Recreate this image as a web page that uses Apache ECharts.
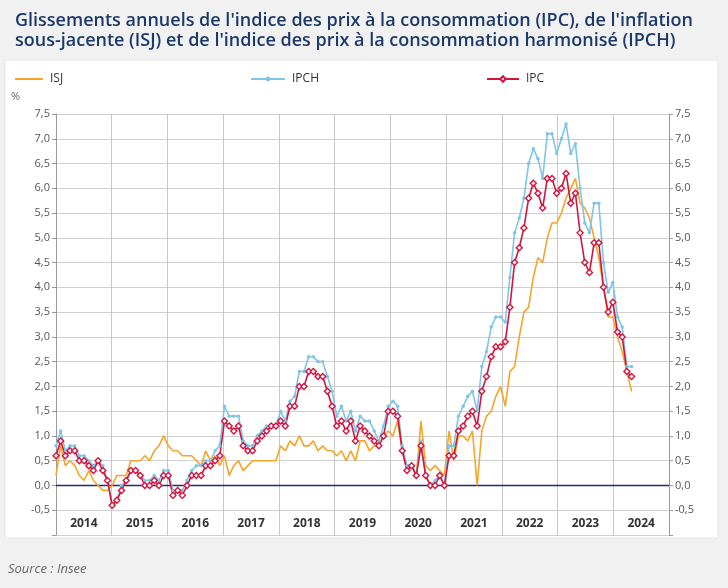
<!DOCTYPE html>
<html>
<head>
<meta charset="utf-8">
<script src="https://cdn.jsdelivr.net/npm/echarts@6/dist/echarts.min.js"></script>
<style>
  html, body { margin: 0; padding: 0; background: #f1f1f1; }
  #chart { width: 728px; height: 588px; }
</style>
</head>
<body>
<div id="chart"></div>
<script>
// ---- Data (annual change, %) Jan 2014 .. Apr 2024 ----
var years = ['2014','2015','2016','2017','2018','2019','2020','2021','2022','2023','2024'];
var yTicks = [-0.5,0,0.5,1,1.5,2,2.5,3,3.5,4,4.5,5,5.5,6,6.5,7,7.5];

var isj = [
  0.2,0.8,0.4,0.5,0.4,0.2,0.1,0.3,0.1,0.0,-0.1,-0.1,
  0.0,0.2,0.2,0.2,0.5,0.5,0.5,0.6,0.5,0.7,0.8,1.0,
  0.8,0.7,0.7,0.6,0.6,0.6,0.5,0.4,0.7,0.5,0.6,0.4,
  0.6,0.2,0.4,0.5,0.3,0.4,0.5,0.5,0.5,0.5,0.5,0.5,
  0.8,0.7,0.9,0.8,1.0,0.8,0.8,0.9,0.7,0.8,0.7,0.7,
  0.6,0.7,0.5,0.7,0.5,0.9,0.9,0.7,0.8,0.8,1.0,1.1,
  1.0,1.3,0.7,0.3,0.4,0.2,1.3,0.4,0.3,0.4,0.3,0.2,
  1.1,0.5,1.0,1.0,0.9,1.1,0.0,1.1,1.4,1.5,1.8,2.0,
  1.6,2.3,2.4,3.0,3.5,3.6,4.2,4.6,4.5,5.0,5.3,5.3,
  5.5,5.8,6.0,6.2,5.7,5.6,5.4,5.0,4.6,4.0,3.4,3.4,
  3.0,2.7,2.3,1.9
];
var ipch = [
  0.8,1.1,0.7,0.8,0.8,0.6,0.6,0.5,0.4,0.5,0.4,0.1,
  -0.4,-0.3,0.0,0.1,0.3,0.3,0.2,0.1,0.1,0.2,0.1,0.3,
  0.3,-0.1,-0.1,-0.1,0.1,0.3,0.4,0.4,0.5,0.5,0.7,0.8,
  1.6,1.4,1.4,1.4,0.9,0.8,0.8,1.0,1.1,1.2,1.2,1.2,
  1.5,1.3,1.7,1.8,2.3,2.3,2.6,2.6,2.5,2.5,2.2,1.9,
  1.4,1.6,1.3,1.5,1.1,1.4,1.3,1.3,1.1,0.9,1.2,1.6,
  1.7,1.6,0.8,0.4,0.4,0.2,0.9,0.2,0.0,0.1,0.2,0.0,
  0.8,0.8,1.4,1.6,1.8,1.9,1.5,2.4,2.7,3.2,3.4,3.4,
  3.3,4.2,5.1,5.4,5.8,6.5,6.8,6.6,6.2,7.1,7.1,6.7,
  7.0,7.3,6.7,6.9,6.0,5.3,5.1,5.7,5.7,4.5,3.9,4.1,
  3.4,3.2,2.4,2.4
];
var ipc = [
  0.6,0.9,0.6,0.7,0.7,0.5,0.5,0.4,0.3,0.5,0.3,0.1,
  -0.4,-0.3,-0.1,0.1,0.3,0.3,0.2,0.0,0.0,0.1,0.0,0.2,
  0.2,-0.2,-0.1,-0.2,0.0,0.2,0.2,0.2,0.4,0.4,0.5,0.6,
  1.3,1.2,1.1,1.2,0.8,0.7,0.7,0.9,1.0,1.1,1.2,1.2,
  1.3,1.2,1.6,1.6,2.0,2.0,2.3,2.3,2.2,2.2,1.9,1.6,
  1.2,1.3,1.1,1.3,0.9,1.2,1.1,1.0,0.9,0.8,1.0,1.5,
  1.5,1.4,0.7,0.3,0.4,0.2,0.8,0.2,0.0,0.0,0.2,0.0,
  0.6,0.6,1.1,1.2,1.4,1.5,1.2,1.9,2.2,2.6,2.8,2.8,
  2.9,3.6,4.5,4.8,5.2,5.8,6.1,5.9,5.6,6.2,6.2,5.9,
  6.0,6.3,5.7,5.9,5.1,4.5,4.3,4.9,4.9,4.0,3.5,3.7,
  3.1,3.0,2.3,2.2
];

// month categories built from the years list
var months = [];
years.forEach(function (y) {
  for (var m = 1; m <= 12; m++) months.push(y + '-' + (m < 10 ? '0' + m : m));
});

function fmt(v) {
  if (yTicks.indexOf(v) < 0) return '';
  return v.toFixed(1).replace('.', ',');
}

var FONT = 'Open Sans';
var chart = echarts.init(document.getElementById('chart'), null, { renderer: 'canvas' });

var yBase = {
  type: 'value', min: -1, max: 7.5, interval: 0.5,
  axisLine: { show: true, lineStyle: { color: '#9a9a9a', width: 1 } },
  axisTick: { show: true, length: 4, lineStyle: { color: '#9a9a9a' } },
  axisLabel: { formatter: fmt, color: '#555', fontSize: 11, fontFamily: FONT, margin: 6 }
};
var legText = { color: '#333', fontSize: 12, fontFamily: FONT, padding: [0, 0, 0, 2] };

chart.setOption({
  backgroundColor: '#f1f1f1',
  animation: false,
  textStyle: { fontFamily: FONT },
  title: {
    text: "Glissements annuels de l'indice des prix à la consommation (IPC), de l'inflation\nsous-jacente (ISJ) et de l'indice des prix à la consommation harmonisé (IPCH)",
    left: 10, top: 6,
    textStyle: { color: '#1b3a6b', fontSize: 18, fontWeight: 600, fontFamily: FONT, lineHeight: 20 }
  },
  graphic: [
    { type: 'rect', z: -10, shape: { x: 5, y: 60, width: 713, height: 478 },
      style: { fill: '#ffffff', stroke: '#e4e4e4', lineWidth: 1 } },
    { type: 'text', left: 11, top: 91, style: { text: '%', fill: '#666', fontSize: 11, fontFamily: FONT } },
    { type: 'text', left: 8, top: 563, style: { text: 'Source : Insee', fill: '#666', fontSize: 13, fontStyle: 'italic', fontFamily: FONT } }
  ],
  legend: [
    { data: [{ name: 'ISJ', icon: 'rect' }], left: 10, top: 68, itemWidth: 28, itemHeight: 2, itemGap: 0, textStyle: legText },
    { data: ['IPCH'], left: 245, top: 68, itemWidth: 34, itemHeight: 6, textStyle: legText },
    { data: ['IPC'], left: 481, top: 68, itemWidth: 32, itemHeight: 7, textStyle: legText }
  ],
  grid: { left: 56, right: 59, top: 114, bottom: 53, containLabel: false },
  xAxis: [
    { type: 'category', data: months, boundaryGap: false, show: false },
    { type: 'category', data: years, boundaryGap: true, position: 'bottom',
      axisLine: { show: false }, axisTick: { show: false },
      splitLine: { show: true, lineStyle: { color: '#c8c8c8', width: 1 } },
      axisLabel: { inside: true, margin: 5, color: '#333', fontSize: 12, fontWeight: 'bold', fontFamily: FONT, verticalAlign: 'bottom' } }
  ],
  yAxis: [
    Object.assign({}, yBase, { position: 'left', splitLine: { show: true, lineStyle: { color: '#cfcfcf', width: 1 } } }),
    Object.assign({}, yBase, { position: 'right', splitLine: { show: false } })
  ],
  series: [
    { name: 'ISJ', type: 'line', data: isj, xAxisIndex: 0, yAxisIndex: 0,
      symbol: 'none', lineStyle: { color: '#f5a52a', width: 1.6 }, itemStyle: { color: '#f5a52a' } },
    { name: 'IPCH', type: 'line', data: ipch, xAxisIndex: 0, yAxisIndex: 0,
      symbol: 'circle', symbolSize: 3.5, showAllSymbol: true,
      lineStyle: { color: '#80c4e6', width: 1.6 }, itemStyle: { color: '#80c4e6' } },
    { name: 'IPC', type: 'line', data: ipc, xAxisIndex: 0, yAxisIndex: 0,
      symbol: 'diamond', symbolSize: 6, showAllSymbol: true,
      lineStyle: { color: '#d3143f', width: 1.6 },
      itemStyle: { color: '#ffffff', borderColor: '#d3143f', borderWidth: 1.4 },
      markLine: { silent: true, symbol: 'none', label: { show: false }, z: 1,
        lineStyle: { color: '#1c2a78', width: 1.3, type: 'solid' },
        data: [{ yAxis: 0 }] } }
  ]
});
</script>
</body>
</html>
